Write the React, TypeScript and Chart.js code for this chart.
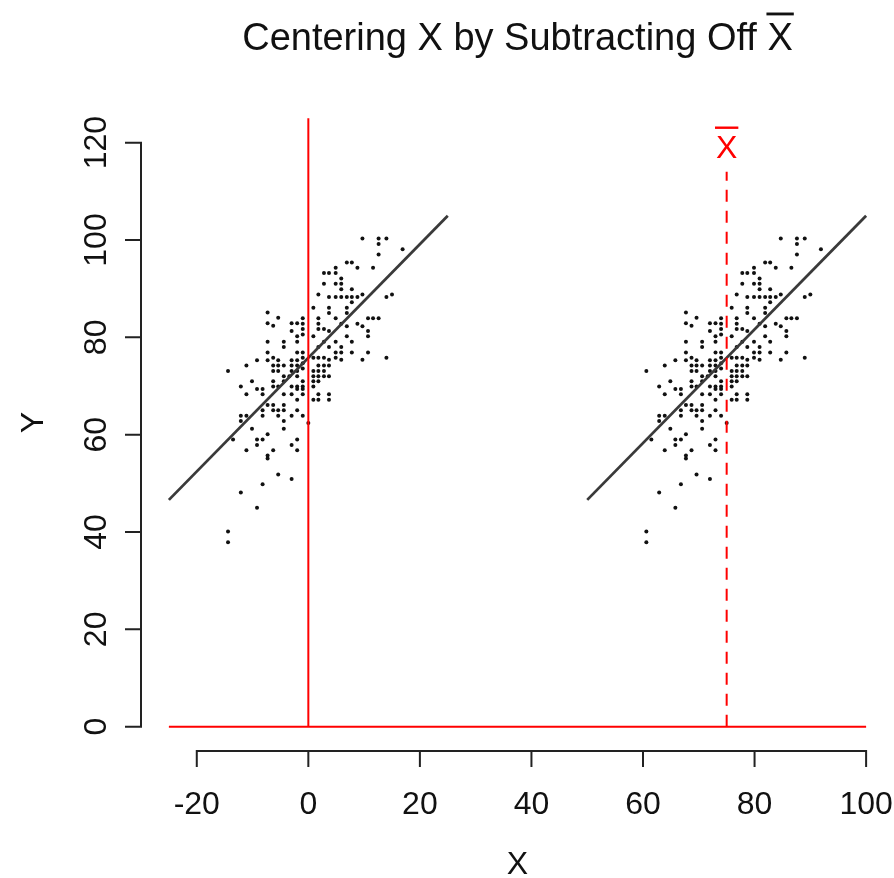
import React, { useEffect, useRef } from "react";
import { Chart, registerables } from "chart.js";

Chart.register(...registerables);

// ---------- data ----------
const xBar = 75; // mean of X

// centered X values (X - X̄)
const xCentered = [
  -7.3, -5.4, -7.3, -6.3, -3.0, -2.0, -2.0, -3.0, -7.3, -4.4, -2.0, -4.4, -7.3, -2.0,
  -9.2, -7.3, -6.3, -5.4, -3.0, -2.0, -11.1, -6.3, -5.4, -4.4, -3.0, -2.0, -14.4, -6.3,
  -5.4, -3.0, -2.0, -4.4, -3.4, -2.0,
  9.7, 12.6, 14.0, 12.6, 12.6, 16.9, 6.9, 7.8, 4.9, 8.8, 11.6, 2.8, 3.7, 4.9, 5.9, 2.8,
  4.9, 5.9, 5.9, 7.8, 9.7, 1.8, 3.7, 4.9, 5.9, 6.9, 7.8, 8.8, 14.0, 15.0, 7.8, 0.9, 3.7,
  6.9, 3.7, 6.9, -1.0, 1.8, 4.9, 10.7, 11.6, 12.6, 1.8, -1.0, 5.9, 8.8, 9.7, -1.0, 1.8,
  2.8, 3.7, 6.9, 10.7, 10.7, -1.0, 0.9, 6.9, 2.8, 4.9, 7.8, 3.7, 5.9, 1.8, 4.9, 5.9, 7.8,
  10.7, -1.0, -1.0, 0.9, 1.8, 2.8, 3.7, 4.9, 5.9, 9.7, 14.0, -1.0, 1.8, 2.8, 3.7, -1.0,
  0.9, 1.8, 2.8, 0.9, 1.8, 2.8, 3.7,
  -1.0, 0.9, 1.8, -1.0, 0.9, -1.0, -1.0, 1.8, 3.7, 0.9, 1.8, 3.7, -1.0,
  -12.1, -10.1, -9.2, -8.2, -11.1, -8.2, -6.3, -6.3, -5.4, -4.4, -4.4, -3.0, -2.0, -2.0,
  -3.0, -2.0, -7.3, -6.3, -4.4, -12.1, -11.1, -12.1, -8.2, -8.2, -6.3, -5.4, -4.4, -5.4,
  -3.0, -2.0, -4.4, -10.1, -4.4, -7.3, -13.5, -9.2, -8.2, -9.2, -2.0, -3.0, -11.1, -6.3,
  -2.0, -7.3, -7.3, -5.4, -3.0, -8.2, -12.1, -9.2, -14.4, -14.4,
  0.0,
];

const yValues = [
  85.1, 84.0, 82.9, 82.4, 82.9, 82.9, 80.2, 81.3, 79.1, 79.1, 79.1, 78.0, 76.9, 76.9,
  75.3, 75.3, 75.8, 75.3, 75.3, 75.3, 74.2, 74.2, 74.2, 74.2, 74.2, 74.2, 73.1, 73.1,
  73.1, 73.1, 73.1, 72.0, 72.0, 72.0,
  100.3, 100.3, 100.3, 99.2, 97.0, 98.1, 95.4, 95.4, 94.3, 94.3, 94.3, 93.2, 93.2, 93.2,
  92.1, 91.0, 91.0, 91.0, 89.9, 89.9, 88.8, 88.8, 88.3, 88.3, 88.3, 88.3, 88.3, 88.3,
  88.3, 88.8, 87.2, 86.1, 86.1, 86.1, 85.0, 85.0, 83.9, 83.9, 83.9, 83.9, 83.9, 83.9,
  82.8, 82.8, 82.8, 82.8, 82.3, 81.7, 81.7, 81.7, 81.3, 82.3, 81.3, 80.2, 80.6, 80.2,
  80.2, 79.1, 79.1, 79.1, 78.0, 78.0, 78.0, 76.9, 76.9, 76.9, 76.9, 76.9, 75.8, 75.8,
  75.8, 75.8, 75.4, 75.8, 75.4, 75.4, 75.8, 74.7, 74.2, 74.2, 74.2, 73.6, 73.1, 73.1,
  73.1, 72.0, 72.0, 72.0, 72.0,
  71.0, 71.0, 71.0, 69.9, 69.9, 69.4, 68.3, 68.3, 68.3, 67.2, 67.2, 67.2, 63.9,
  69.9, 71.0, 69.4, 69.4, 68.3, 68.3, 71.0, 69.9, 69.9, 71.0, 68.3, 69.9, 69.9, 69.4,
  68.3, 67.2, 66.1, 66.1, 66.1, 63.9, 63.9, 62.8, 65.0, 63.9, 65.0, 65.0, 65.0, 63.9,
  63.9, 65.0, 62.8, 61.2, 61.2, 60.1, 59.0, 59.0, 59.0, 57.9, 59.0, 57.9, 56.8, 56.8,
  56.8, 55.7, 55.1, 51.8, 50.9, 49.8, 48.1, 45.0, 40.1, 37.9,
  62.4,
];

// fitted line end points (centered X)
const fitXCentered = [-25, 25];
const fitY = [46.6, 105.0];

// reference lines
const zeroLineX = [-25, 100];
const zeroLineY = [0, 0];
const vLineY = [0, 125];
const meanLineY = [0, 114];
const meanLabelY = 119.2;

const xTicks = [-20, 0, 20, 40, 60, 80, 100];
const yTicks = [0, 20, 40, 60, 80, 100, 120];

const titleMain = "Centering X by Subtracting Off ";
const meanSymbol = "X"; // drawn with an overbar: X̄
const xTitle = "X";
const yTitle = "Y";

const FONT = '"Liberation Sans", Arial, Helvetica, sans-serif';
const W = 894;
const H = 878;

// draws "X" with a bar over it (X̄), centred horizontally at cx, baseline at by
function drawXBar(ctx: CanvasRenderingContext2D, cx: number, by: number, size: number, color: string) {
  ctx.fillStyle = color;
  ctx.textAlign = "center";
  ctx.textBaseline = "alphabetic";
  ctx.fillText(meanSymbol, cx, by);
  const w = ctx.measureText(meanSymbol).width;
  const capH = size * 0.716;
  ctx.fillRect(cx - w / 2 - 1, by - capH - size * 0.27, w + 2, Math.max(2, size * 0.075));
}

const rStylePlugin = {
  id: "rStyle",
  afterDraw(chart: any) {
    const { ctx, chartArea } = chart;
    const xs = chart.scales.x;
    const ys = chart.scales.y;
    ctx.save();
    ctx.strokeStyle = "#222";
    ctx.fillStyle = "#111";
    ctx.lineWidth = 2;
    ctx.lineCap = "butt";

    // y axis
    const ax = chartArea.left;
    ctx.beginPath();
    ctx.moveTo(ax, ys.getPixelForValue(yTicks[0]));
    ctx.lineTo(ax, ys.getPixelForValue(yTicks[yTicks.length - 1]));
    yTicks.forEach((t) => {
      const p = ys.getPixelForValue(t);
      ctx.moveTo(ax + 1, p);
      ctx.lineTo(ax - 16, p);
    });
    ctx.stroke();

    // x axis
    const ay = chartArea.bottom;
    ctx.beginPath();
    ctx.moveTo(xs.getPixelForValue(xTicks[0]), ay);
    ctx.lineTo(xs.getPixelForValue(xTicks[xTicks.length - 1]), ay);
    xTicks.forEach((t) => {
      const p = xs.getPixelForValue(t);
      ctx.moveTo(p, ay - 1);
      ctx.lineTo(p, ay + 16);
    });
    ctx.stroke();

    // tick labels
    ctx.font = `32px ${FONT}`;
    ctx.textAlign = "center";
    ctx.textBaseline = "alphabetic";
    xTicks.forEach((t) => {
      ctx.fillText(String(t), xs.getPixelForValue(t), ay + 63);
    });
    yTicks.forEach((t) => {
      ctx.save();
      ctx.translate(ax - 35, ys.getPixelForValue(t));
      ctx.rotate(-Math.PI / 2);
      ctx.fillText(String(t), 0, 0);
      ctx.restore();
    });

    // axis titles
    const cx = (chartArea.left + chartArea.right) / 2;
    const cy = (chartArea.top + chartArea.bottom) / 2;
    ctx.fillText(xTitle, cx, ay + 123);
    ctx.save();
    ctx.translate(43, cy);
    ctx.rotate(-Math.PI / 2);
    ctx.fillText(yTitle, 0, 0);
    ctx.restore();

    // main title: "Centering X by Subtracting Off X̄"
    ctx.font = `38px ${FONT}`;
    const wMain = ctx.measureText(titleMain).width;
    const wX = ctx.measureText(meanSymbol).width;
    const startX = cx - (wMain + wX) / 2;
    ctx.textAlign = "left";
    ctx.fillStyle = "#111";
    ctx.fillText(titleMain, startX, 50);
    drawXBar(ctx, startX + wMain + wX / 2, 50, 38, "#111");

    // mean label X̄ at the dashed line
    ctx.font = `32px ${FONT}`;
    drawXBar(ctx, xs.getPixelForValue(xBar), ys.getPixelForValue(meanLabelY) + 11.5, 32, "#ff0000");
    ctx.restore();
  },
};

export default function App() {
  const ref = useRef<HTMLCanvasElement | null>(null);

  useEffect(() => {
    if (!ref.current) return;
    const centeredPts = xCentered.map((x, i) => ({ x, y: yValues[i] }));
    const rawPts = xCentered.map((x, i) => ({ x: x + xBar, y: yValues[i] }));
    const lineStyle = { showLine: true, pointRadius: 0, fill: false };

    const chart = new Chart(ref.current, {
      type: "scatter",
      data: {
        datasets: [
          {
            ...lineStyle,
            data: zeroLineX.map((x, i) => ({ x, y: zeroLineY[i] })),
            borderColor: "#ff0000",
            borderWidth: 2,
            order: 0,
          },
          {
            ...lineStyle,
            data: vLineY.map((y) => ({ x: 0, y })),
            borderColor: "#ff0000",
            borderWidth: 2,
            order: 0,
          },
          {
            ...lineStyle,
            data: meanLineY.map((y) => ({ x: xBar, y })),
            borderColor: "#ff0000",
            borderWidth: 2,
            borderDash: [12, 9],
            order: 0,
          },
          {
            ...lineStyle,
            data: fitXCentered.map((x, i) => ({ x, y: fitY[i] })),
            borderColor: "#3a3a3a",
            borderWidth: 2.8,
            order: 1,
          },
          {
            ...lineStyle,
            data: fitXCentered.map((x, i) => ({ x: x + xBar, y: fitY[i] })),
            borderColor: "#3a3a3a",
            borderWidth: 2.8,
            order: 1,
          },
          {
            data: centeredPts,
            pointRadius: 2,
            pointBackgroundColor: "#111",
            pointBorderWidth: 0,
            order: 2,
          },
          {
            data: rawPts,
            pointRadius: 2,
            pointBackgroundColor: "#111",
            pointBorderWidth: 0,
            order: 2,
          },
        ],
      },
      options: {
        animation: false,
        responsive: false,
        maintainAspectRatio: false,
        layout: { autoPadding: false, padding: { left: 141, right: 0, top: 94, bottom: 127 } },
        plugins: {
          legend: { display: false },
          tooltip: { enabled: false },
          title: { display: false },
        },
        events: [],
        scales: {
          x: { type: "linear", min: -30, max: 105, display: false },
          y: { type: "linear", min: -5, max: 130, display: false },
        },
      },
      plugins: [rStylePlugin],
    });
    return () => chart.destroy();
  }, []);

  return (
    <div
      style={{
        position: "fixed",
        left: 0,
        top: 0,
        width: `${W}px`,
        height: `${H}px`,
        background: "#fff",
      }}
    >
      <canvas ref={ref} width={W} height={H} style={{ width: `${W}px`, height: `${H}px`, display: "block" }} />
    </div>
  );
}
